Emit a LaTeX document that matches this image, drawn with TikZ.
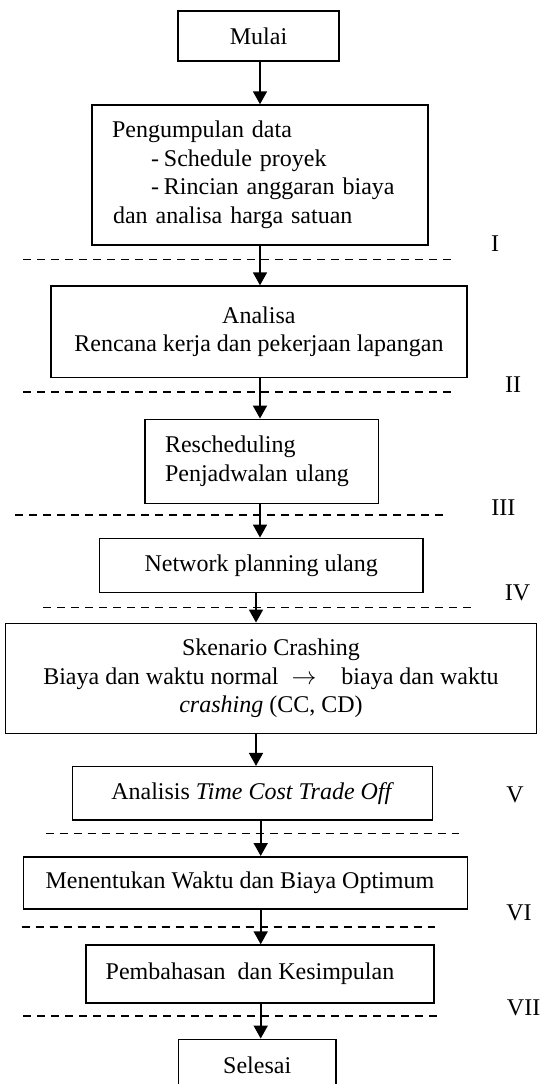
\documentclass[tikz,border=0pt]{standalone}
\usepackage{fontspec}
\setmainfont{Liberation Serif}
\usetikzlibrary{arrows.meta}
\begin{document}
\begin{tikzpicture}[x=1pt,y=-1pt,
  box/.style={draw, line width=1.5pt, inner sep=0pt, font=\fontsize{24}{28.5}\selectfont},
  arr/.style={line width=1.8pt, -{Triangle[width=14pt,length=13pt]}},
  sep/.style={line width=1.6pt, dash pattern=on 8pt off 6pt},
  lab/.style={inner sep=0pt, font=\fontsize{24}{28.5}\selectfont}]
\clip (0,0) rectangle (543,1084);
\fill[white] (0,0) rectangle (543,1084);

% boxes
\node[box, minimum width=161pt, minimum height=50pt] (mulai) at (258.5,36) {Mulai};
\node[box, minimum width=336pt, minimum height=140pt, text width=296pt, align=left] (data) at (260,175)
  {Pengumpulan data\\\hspace*{39pt}-\hspace{5pt}Schedule proyek\\\hspace*{39pt}-\hspace{5pt}Rincian anggaran biaya\\\hspace*{1pt}dan analisa harga satuan};
\node[box, minimum width=416.3pt, minimum height=91.3pt, align=center] (anal) at (258.9,331.7)
  {Analisa\\Rencana kerja dan pekerjaan lapangan};
\node[box, minimum width=233.6pt, minimum height=84pt, text width=193.6pt, align=left] (resch) at (261.8,461.3)
  {Rescheduling\\Penjadwalan ulang};
\node[box, minimum width=323.6pt, minimum height=54pt] (net) at (261.2,565.3) {Network planning ulang};
\node[box, minimum width=530.7pt, minimum height=110pt, align=center] (sken) at (271,678.3)
  {Skenario Crashing\\Biaya dan waktu normal\hspace{13pt}$\rightarrow$\hspace{25pt}biaya dan waktu\\\textit{crashing} (CC, CD)};
\node[box, minimum width=360pt, minimum height=53.3pt] (tcto) at (252.7,793.3) {Analisis \textit{Time Cost Trade Off}};
\node[box, minimum width=444pt, minimum height=52.3pt] (opt) at (245.4,882.9) {Menentukan Waktu dan Biaya Optimum\hspace*{11pt}};
\node[box, minimum width=348pt, minimum height=57.7pt] (bahas) at (260,973.9) {Pembahasan\ \ dan Kesimpulan\hspace*{20pt}};
\node[box, minimum width=157.7pt, minimum height=52pt] (selesai) at (257.2,1065.3) {Selesai};

% stage separators and labels
\draw[sep] (23,259.3) -- (451.7,259.3);
\node[lab] (l1) at (495,243.3) {I};
\draw[sep] (23,391.7) -- (451,391.7);
\node[lab] (l2) at (513,385) {II};
\draw[sep] (15,515) -- (444,515);
\node[lab] (l3) at (503.3,508) {III};
\draw[sep] (43,607.3) -- (471.6,607.3);
\node[lab] (l4) at (517.5,593) {IV};
\draw[sep] (45.7,833.3) -- (459.4,833.3);
\node[lab] (l5) at (515,795) {V};
\draw[sep] (21.7,926.7) -- (435,926.7);
\node[lab] (l6) at (519,913) {VI};
\draw[sep] (23.3,1015.7) -- (437.6,1015.7);
\node[lab] (l7) at (523.6,1008) {VII};

% connectors
\coordinate (ax) at (260,0);
\coordinate (bx) at (256,0);
\coordinate (cx) at (260.7,0);
\draw[arr] (mulai.south -| ax) -- (data.north -| ax);
\draw[arr] (data.south -| ax) -- (anal.north -| ax);
\draw[arr] (anal.south -| ax) -- (resch.north -| ax);
\draw[arr] (resch.south -| ax) -- (net.north -| ax);
\draw[arr] (net.south -| bx) -- (sken.north -| bx);
\draw[arr] (sken.south -| bx) -- (tcto.north -| bx);
\draw[arr] (tcto.south -| cx) -- (opt.north -| cx);
\draw[arr] (opt.south -| cx) -- (bahas.north -| cx);
\draw[arr] (bahas.south -| cx) -- (selesai.north -| cx);
\end{tikzpicture}
\end{document}
